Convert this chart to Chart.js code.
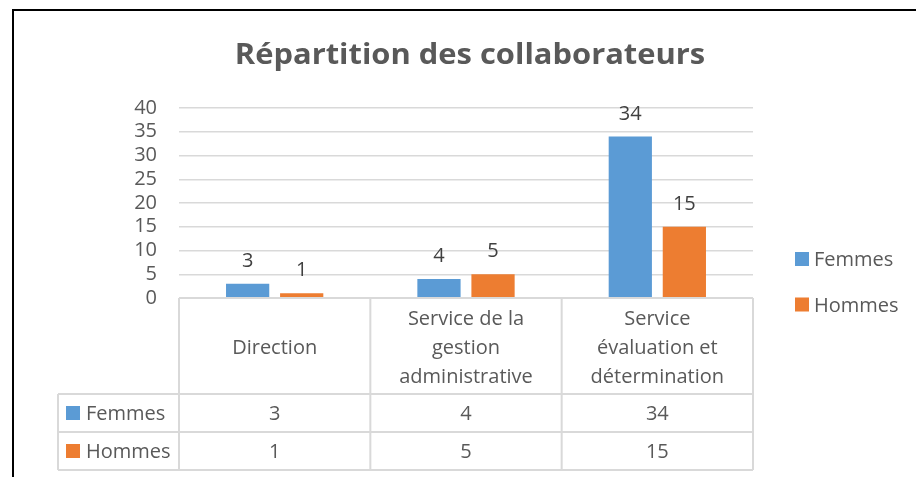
<!DOCTYPE html>
<html lang="fr">
<head>
<meta charset="utf-8">
<title>Répartition des collaborateurs</title>
<script src="https://cdn.jsdelivr.net/npm/chart.js@4.4.1/dist/chart.umd.min.js"></script>
<style>
  html, body { margin: 0; padding: 0; background: #ffffff; }
  #wrap { position: relative; width: 916px; height: 477px; overflow: hidden; }
  #wrap canvas { position: absolute; left: 0; top: 0; }
  /* outer frame of the pasted Excel chart (right and bottom edges run off the picture) */
  #frame { position: absolute; left: 12px; top: 9px; width: 960px; height: 520px;
           border-left: 2px solid #000; border-top: 2px solid #000; pointer-events: none; }
</style>
</head>
<body>
<div id="wrap">
  <canvas id="collabChart" width="916" height="477"></canvas>
  <div id="frame"></div>
</div>
<script>
// ============================================================================
// DATA
// ============================================================================
const chartTitle = 'Répartition des collaborateurs';
const categories = [
  ['Direction'],
  ['Service de la', 'gestion', 'administrative'],
  ['Service', 'évaluation et', 'détermination']
];
const seriesNames = ['Femmes', 'Hommes'];
const femmes = [3, 4, 34];
const hommes = [1, 5, 15];
const yTicks = [0, 5, 10, 15, 20, 25, 30, 35, 40];

const seriesColors = ['#5B9BD5', '#ED7D31'];
const FONT = '"Open Sans", Lato, sans-serif';
const TEXT_GREY = '#595959';
const LABEL_GREY = '#404040';
const LINE_GREY = '#D9D9D9';

// ============================================================================
// PLUGINS
// ============================================================================

// Value labels above each bar, placed from the bar elements themselves
const barValueLabels = {
  id: 'barValueLabels',
  afterDatasetsDraw(chart) {
    const ctx = chart.ctx;
    ctx.save();
    ctx.font = '20px ' + FONT;
    ctx.fillStyle = LABEL_GREY;
    ctx.textAlign = 'center';
    ctx.textBaseline = 'alphabetic';
    chart.data.datasets.forEach((ds, i) => {
      chart.getDatasetMeta(i).data.forEach((bar, j) => {
        ctx.fillText(String(ds.data[j]), bar.x, bar.y - 17);
      });
    });
    ctx.restore();
  }
};

// Title, right-hand legend and the Excel-style data table under the plot
const excelExtras = {
  id: 'excelExtras',
  afterDraw(chart) {
    const ctx = chart.ctx;
    const area = chart.chartArea;
    const xScale = chart.scales.x;
    const datasets = chart.data.datasets;

    // column edges from the category scale
    const half = (xScale.getPixelForValue(1) - xScale.getPixelForValue(0)) / 2;
    const edges = categories.map((c, i) => xScale.getPixelForValue(i) - half);
    edges.push(xScale.getPixelForValue(categories.length - 1) + half);

    const headTop = area.bottom;
    const headBottom = headTop + 96;
    const rowH = 38;
    const tableLeft = 58;
    const tableBottom = headBottom + rowH * datasets.length;

    ctx.save();

    // Title (Excel's bold Calibri runs wide, so stretch it a little)
    ctx.font = 'bold 29px ' + FONT;
    ctx.fillStyle = TEXT_GREY;
    ctx.textAlign = 'center';
    ctx.textBaseline = 'alphabetic';
    ctx.save();
    ctx.translate(470, 64);
    ctx.scale(1.065, 1);
    ctx.fillText(chartTitle, 0, 0);
    ctx.restore();

    // Legend on the right
    ctx.font = '20px ' + FONT;
    ctx.textAlign = 'left';
    datasets.forEach((ds, i) => {
      const cy = 259 + i * 45.5;
      ctx.fillStyle = ds.backgroundColor;
      ctx.fillRect(795, cy - 7, 14, 14);
      ctx.fillStyle = TEXT_GREY;
      ctx.fillText(ds.label, 814, cy + 7);
    });

    // Table grid
    ctx.strokeStyle = LINE_GREY;
    ctx.lineWidth = 2;
    ctx.beginPath();
    ctx.moveTo(edges[0], headTop);
    ctx.lineTo(edges[edges.length - 1], headTop);
    for (let r = 0; r <= datasets.length; r++) {
      const y = headBottom + r * rowH;
      ctx.moveTo(tableLeft, y);
      ctx.lineTo(edges[edges.length - 1], y);
    }
    ctx.moveTo(tableLeft, headBottom);
    ctx.lineTo(tableLeft, tableBottom);
    edges.forEach(x => {
      ctx.moveTo(x, headTop);
      ctx.lineTo(x, tableBottom);
    });
    ctx.stroke();

    // Category header cells
    ctx.font = '20px ' + FONT;
    ctx.fillStyle = TEXT_GREY;
    ctx.textAlign = 'center';
    const lineH = 29;
    categories.forEach((lines, i) => {
      const cx = xScale.getPixelForValue(i);
      const firstBase = (headTop + headBottom) / 2 + 8 - (lines.length - 1) * lineH / 2;
      lines.forEach((txt, k) => ctx.fillText(txt, cx, firstBase + k * lineH));
    });

    // Series rows: key, name and values
    datasets.forEach((ds, r) => {
      const cy = headBottom + r * rowH + rowH / 2;
      ctx.fillStyle = ds.backgroundColor;
      ctx.fillRect(66, cy - 7, 14, 14);
      ctx.fillStyle = TEXT_GREY;
      ctx.textAlign = 'left';
      ctx.fillText(ds.label, 86, cy + 7);
      ctx.textAlign = 'center';
      ds.data.forEach((v, i) => ctx.fillText(String(v), xScale.getPixelForValue(i), cy + 7));
    });

    ctx.restore();
  }
};

// ============================================================================
// CHART
// ============================================================================
function initCollabChart() {
  const canvas = document.getElementById('collabChart');
  if (typeof Chart === 'undefined' || !canvas) {
    console.warn('Chart.js not available');
    return;
  }

  new Chart(canvas, {
    type: 'bar',
    data: {
      labels: categories,
      datasets: [
        { label: seriesNames[0], data: femmes, backgroundColor: seriesColors[0] },
        { label: seriesNames[1], data: hommes, backgroundColor: seriesColors[1] }
      ].map(ds => Object.assign(ds, {
        borderWidth: 0,
        barPercentage: 0.8,
        categoryPercentage: 0.565
      }))
    },
    options: {
      responsive: false,
      animation: false,
      devicePixelRatio: 1,
      layout: { padding: { left: 0, top: 108, right: 163, bottom: 0 } },
      plugins: {
        legend: { display: false },
        title: { display: false },
        tooltip: { enabled: false }
      },
      scales: {
        x: {
          ticks: { display: false },
          grid: { display: false },
          border: { display: false },
          afterFit(scale) { scale.height = 179; }
        },
        y: {
          min: yTicks[0],
          max: yTicks[yTicks.length - 1],
          ticks: {
            stepSize: yTicks[1] - yTicks[0],
            autoSkip: false,
            padding: 22,
            color: TEXT_GREY,
            font: { family: FONT, size: 20 }
          },
          grid: { color: LINE_GREY, lineWidth: 1.5, drawTicks: false },
          border: { display: false },
          afterFit(scale) { scale.width = 179; }
        }
      }
    },
    plugins: [barValueLabels, excelExtras]
  });
}

initCollabChart();
</script>
</body>
</html>
